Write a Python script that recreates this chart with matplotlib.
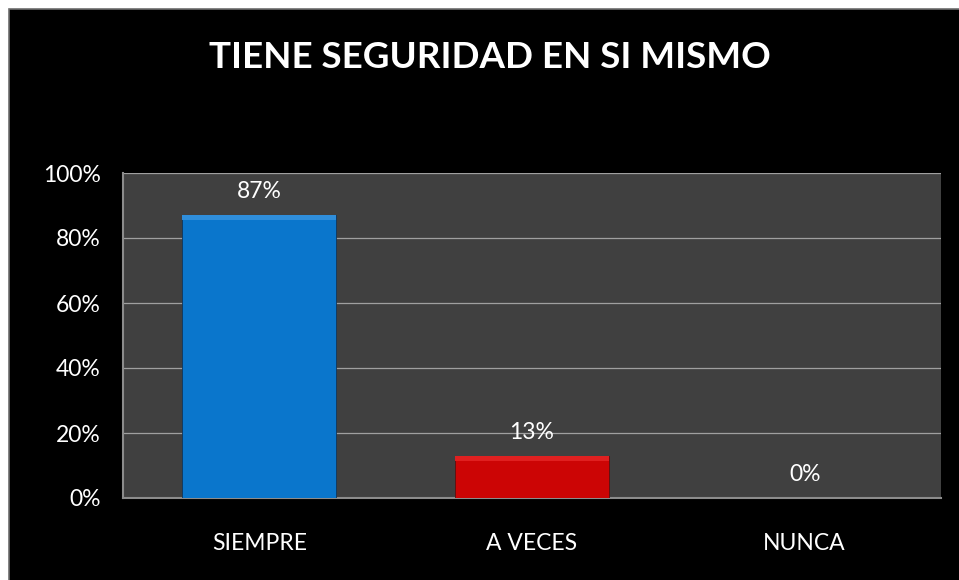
import matplotlib.pyplot as plt
from matplotlib.patches import Rectangle
from matplotlib.ticker import PercentFormatter

categories = ['SIEMPRE', 'A VECES', 'NUNCA']
values = [87, 13, 0]
colors = ['#0A76CC', '#CC0505', '#404040']
highlights = ['#2F8EDB', '#E02020', '#404040']
title = 'TIENE SEGURIDAD EN SI MISMO'

plt.rcParams['font.family'] = ['Lato', 'DejaVu Sans']

fig = plt.figure(figsize=(9.59, 5.80), dpi=100, facecolor='white')
# black card with a thin grey edge, leaving a white strip top/left
fig.patches.append(Rectangle((9 / 959, -0.1), 1.2, 1.1 - 9 / 580, transform=fig.transFigure,
                             facecolor='black', edgecolor='#6E6E6E', linewidth=1.2, zorder=-5))

ax = fig.add_axes([123 / 959, 1 - 498 / 580, (941 - 123) / 959, (498 - 173) / 580])
ax.set_facecolor('#404040')

x = range(len(categories))
bars = ax.bar(x, values, width=0.565, color=colors, edgecolor='#10355a', linewidth=0.6, zorder=3)
bars[1].set_edgecolor('#5a1010')
# thin lighter strip on top of each bar (bevel look)
for rect, v, hc in zip(bars, values, highlights):
    if v > 0:
        ax.bar(rect.get_x() + rect.get_width() / 2, 1.5, bottom=v - 1.5, width=rect.get_width(),
               color=hc, linewidth=0, zorder=3.5)
for rect, v in zip(bars, values):
    ax.text(rect.get_x() + rect.get_width() / 2, v + 4, f'{v}%', ha='center', va='bottom',
            color='white', fontsize=16.5, zorder=4)

ax.set_xlim(-0.5, 2.5)
ax.set_ylim(0, 100)
ax.set_yticks(range(0, 101, 20))
ax.yaxis.set_major_formatter(PercentFormatter(decimals=0))
ax.set_xticks(list(x))
ax.set_xticklabels(categories)
ax.tick_params(axis='both', length=0, colors='white', labelsize=16.5)
ax.tick_params(axis='x', pad=25)
ax.tick_params(axis='y', pad=16)
ax.grid(axis='y', color='#A0A0A0', linewidth=0.9, zorder=1)

for s in ['top', 'right']:
    ax.spines[s].set_visible(False)
for s in ['left', 'bottom']:
    ax.spines[s].set_color('#8C8C8C')
    ax.spines[s].set_linewidth(1.5)

fig.text(490 / 959, 1 - 58 / 580, title, ha='center', va='center', color='white',
         fontsize=26.5, fontweight='bold')

fig.savefig('out.png', dpi=100, facecolor='white')
